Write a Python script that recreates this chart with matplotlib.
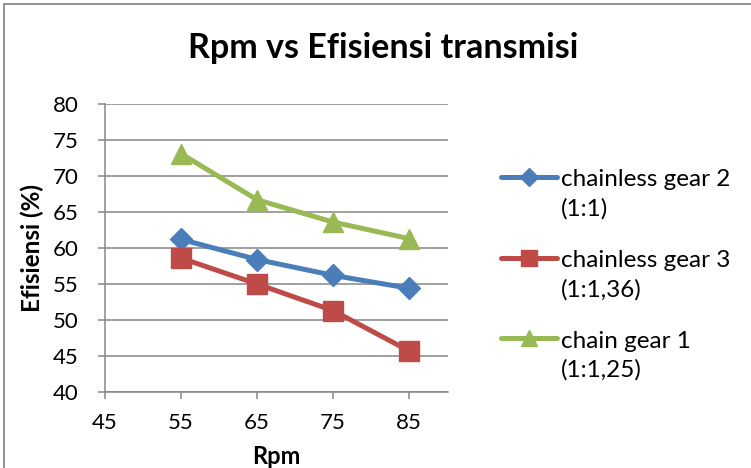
import matplotlib.pyplot as plt
from matplotlib.lines import Line2D
from matplotlib.patches import Rectangle

rpm = [55, 65, 75, 85]
chainless_gear2 = [61.2, 58.4, 56.2, 54.4]
chainless_gear3 = [58.6, 55.0, 51.3, 45.7]
chain_gear1 = [73.1, 66.7, 63.6, 61.3]

labels = [('chainless gear 2', '(1:1)'), ('chainless gear 3', '(1:1,36)'), ('chain gear 1', '(1:1,25)')]
x_ticks = [45, 55, 65, 75, 85]
y_ticks = [40, 45, 50, 55, 60, 65, 70, 75, 80]

plt.rcParams['font.family'] = ['Lato', 'DejaVu Sans']
grid_col = '#868686'
W, H = 751, 468

fig = plt.figure(figsize=(W / 100, H / 100), dpi=100)
ax = fig.add_axes([105 / W, 1 - 392 / H, 343 / W, 288 / H])

series = [
    (chainless_gear2, '#4A7EBB', 'D', 11, 9),
    (chainless_gear3, '#BE4B48', 's', 14, 11.5),
    (chain_gear1, '#98B954', '^', 15, 12),
]
for vals, col, mk, ms, _ in series:
    ax.plot(rpm, vals, color=col, lw=3.6, marker=mk, ms=ms)

ax.set_xlim(45, 90.1)
ax.set_ylim(40, 80)
ax.set_xticks(x_ticks)
ax.set_yticks(y_ticks)
ax.grid(axis='y', color=grid_col, lw=1.1)
ax.set_axisbelow(True)
for s in ['top', 'right']:
    ax.spines[s].set_visible(False)
for s in ['left', 'bottom']:
    ax.spines[s].set_color(grid_col)
    ax.spines[s].set_linewidth(1.1)
ax.tick_params(colors=grid_col, labelcolor='black', labelsize=16, length=5, width=1.1)
ax.tick_params(axis='x', pad=10)
ax.tick_params(axis='y', pad=14)

ax.set_xlabel('Rpm', fontsize=17, fontweight='bold', va='center')
ax.xaxis.set_label_coords(0.5, (392 - 457) / 288)
ax.set_ylabel('Efisiensi (%)', fontsize=17.5, fontweight='bold', va='center')
ax.yaxis.set_label_coords((32 - 105) / 343, 0.5)

fig.text(383 / W, 1 - 48 / H, 'Rpm vs Efisiensi transmisi', ha='center', va='center',
         fontsize=24.5, fontweight='bold')

# legend: handle next to first line of each two-line label
for i, (vals, col, mk, _, lms) in enumerate(series):
    yh = 177 + 80.5 * i
    fig.add_artist(Line2D([501 / W, 557 / W], [1 - yh / H, 1 - yh / H], transform=fig.transFigure,
                          color=col, lw=3.6, solid_capstyle='round'))
    fig.add_artist(Line2D([529 / W], [1 - yh / H], transform=fig.transFigure,
                          color=col, marker=mk, ms=lms, lw=0))
    fig.text(561 / W, 1 - (yh + 3) / H, labels[i][0], ha='left', va='center', fontsize=17.5)
    fig.text(561 / W, 1 - (yh + 32) / H, labels[i][1], ha='left', va='center', fontsize=17.5)

# outer chart border
fig.patches.append(Rectangle((4 / W, -0.05), 1.1, 1 - 4 / H + 0.05, transform=fig.transFigure,
                             fill=False, edgecolor='#7f7f7f', lw=1.2))

fig.savefig('out.png', dpi=100)
